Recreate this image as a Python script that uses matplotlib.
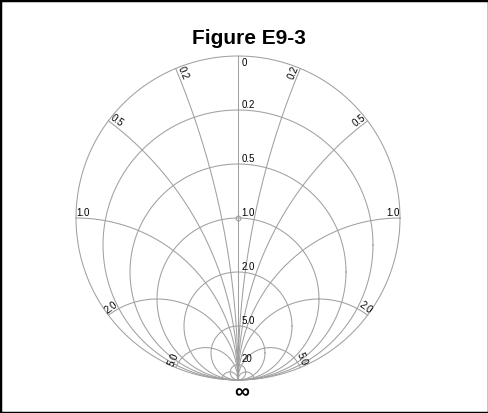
import numpy as np
import matplotlib
matplotlib.use("Agg")
from matplotlib import pyplot as plt
from matplotlib.patches import Rectangle

plt.rcParams['font.family'] = ['Liberation Sans', 'DejaVu Sans']

# constant-resistance circles and constant-reactance arcs
r_values = [0.2, 0.5, 1.0, 2.0, 5.0, 20.0]
r_labels = ['0.2', '0.5', '1.0', '2.0', '5.0', '20']
x_values = [0.2, 0.5, 1.0, 2.0, 5.0, 20.0]
x_labels = ['0.2', '0.5', '1.0', '2.0', '5.0', '']

W, H = 489, 413
cx, cy, R = 238, 218, 162  # chart centre / radius in pixels
grid_col = '#a0a0a0'
lw = 0.75

fig = plt.figure(figsize=(W / 100, H / 100), dpi=100)
ax = fig.add_axes([0, 0, 1, 1])
ax.set_xlim(-cx / R, (W - cx) / R)
ax.set_ylim(-(H - cy) / R, cy / R)
ax.set_aspect('equal')
ax.axis('off')


def to_screen(gam):
    # rotate chart: open circuit (gamma = 1) at the bottom
    return gam.imag, -gam.real


def gamma(z):
    return (z - 1) / (z + 1)


# outer circle (r = 0)
t = np.linspace(0, 2 * np.pi, 721)
ax.plot(np.cos(t), np.sin(t), color=grid_col, lw=lw)

# real axis
ax.plot([0, 0], [-1, 1], color=grid_col, lw=lw)

# resistance circles
for r in r_values:
    c = r / (1 + r)
    rad = 1 / (1 + r)
    ax.plot(rad * np.cos(t), -c + rad * np.sin(t), color=grid_col, lw=lw)

# reactance arcs (both signs)
rr = np.concatenate([np.linspace(0, 1, 200), np.logspace(0, 5, 600)])
for x in x_values:
    for s in (1, -1):
        px, py = to_screen(gamma(rr + 1j * s * x))
        ax.plot(px, py, color=grid_col, lw=lw)

# centre marker
ax.plot(0, 0, 'o', ms=3.5, mfc='none', mec=grid_col, mew=lw)

# resistance labels
lab_kw = dict(fontsize=7, color='black')
ax.text(0.02, 1 - 2 / R, '0', ha='left', va='top', **lab_kw)
for r, lab in zip(r_values, r_labels):
    top = -(r - 1) / (r + 1)
    ax.text(0.02, top + 0.5 / R, lab, ha='left', va='bottom', **lab_kw)

# reactance labels on the rim
for x, lab in zip(x_values, x_labels):
    if not lab:
        continue
    for s in (1, -1):
        px, py = to_screen(gamma(1j * s * x))
        ang = np.degrees(np.arctan2(py, px))
        if px < 0:
            rot = ang - 180 if ang > 0 else ang + 180
            ha = 'left'
        else:
            rot = ang
            ha = 'right'
        ax.text(px, py, lab, rotation=rot, rotation_mode='anchor',
                ha=ha, va='bottom', **lab_kw)

ax.text(0.02, -1 - 13 / R, '\u221e', ha='center', va='center',
        fontsize=15, fontweight='bold')

fig.text(249 / W, 1 - 38 / H, 'Figure E9-3', ha='center', va='center',
         fontsize=15, fontweight='bold')

fig.patches.append(Rectangle((0, 0), 1, 1, transform=fig.transFigure,
                             fill=False, edgecolor='black', lw=2.5))

fig.savefig('out.png', dpi=100)
